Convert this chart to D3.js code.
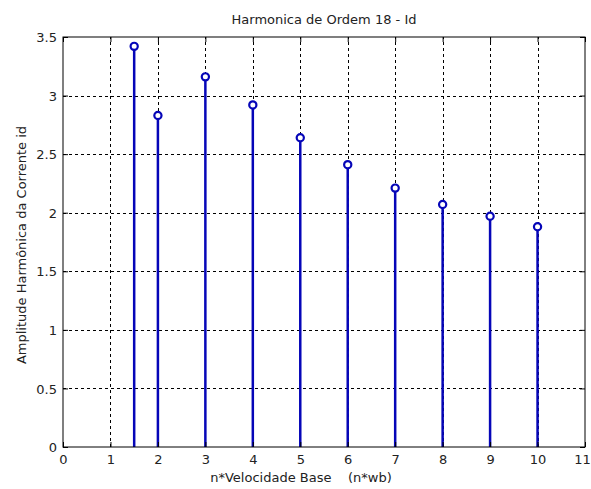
<!DOCTYPE html>
<html>
<head>
<meta charset="utf-8">
<script src="https://cdn.jsdelivr.net/npm/d3@7"></script>
<style>
  body { margin: 0; background: #fff; }
  svg { display: block; }
  text { font-family: "DejaVu Sans", Verdana, sans-serif; fill: #222; }
</style>
</head>
<body>
<svg id="chart" width="591" height="489"></svg>
<script>
// Stem positions (multiples of base speed) and harmonic amplitudes
const speeds = [1.5, 2, 3, 4, 5, 6, 7, 8, 9, 10];
const amplitudes = [3.42, 2.83, 3.16, 2.92, 2.64, 2.41, 2.21, 2.07, 1.97, 1.88];
const xTicks = [0, 1, 2, 3, 4, 5, 6, 7, 8, 9, 10, 11];
const yTicks = [0, 0.5, 1, 1.5, 2, 2.5, 3, 3.5];

const titleText = "Harmonica de Ordem 18 - Id";
const xLabel = "n*Velocidade Base    (n*wb)";
const yLabel = "Amplitude Harmônica da Corrente id";

const svg = d3.select("#chart");
const m = { left: 63, right: 6, top: 37, bottom: 42 };
const W = 591, H = 489;
const x = d3.scaleLinear().domain([0, 11]).range([m.left, W - m.right]);
const y = d3.scaleLinear().domain([0, 3.5]).range([H - m.bottom, m.top]);

const plot = svg.append("g");

// dashed grid
plot.append("g").selectAll("line").data(xTicks.slice(1, -1)).join("line")
  .attr("x1", d => Math.round(x(d)) + 0.5).attr("x2", d => Math.round(x(d)) + 0.5)
  .attr("y1", y(0)).attr("y2", y(3.5))
  .attr("stroke", "#000").attr("stroke-width", 1).attr("stroke-dasharray", "3,3");
plot.append("g").selectAll("line").data(yTicks.slice(1, -1)).join("line")
  .attr("y1", d => Math.round(y(d)) + 0.5).attr("y2", d => Math.round(y(d)) + 0.5)
  .attr("x1", x(0)).attr("x2", x(11))
  .attr("stroke", "#000").attr("stroke-width", 1).attr("stroke-dasharray", "3,3");

// axes with inward ticks on all four sides
const xAxis = d3.axisBottom(x).tickValues(xTicks).tickSize(-5).tickPadding(8).tickFormat(d3.format("d"));
const yAxis = d3.axisLeft(y).tickValues(yTicks).tickSize(-5).tickPadding(6).tickFormat(d => String(d));
const gx = svg.append("g").attr("transform", `translate(0,${y(0)})`).call(xAxis);
const gy = svg.append("g").attr("transform", `translate(${x(0)},0)`).call(yAxis);
svg.append("g").attr("transform", `translate(0,${y(3.5)})`)
  .call(d3.axisTop(x).tickValues(xTicks).tickSize(-5).tickFormat(""));
svg.append("g").attr("transform", `translate(${x(11)},0)`)
  .call(d3.axisRight(y).tickValues(yTicks).tickSize(-5).tickFormat(""));
svg.selectAll(".domain").remove();
svg.selectAll(".tick line").attr("stroke", "#000");
[gx, gy].forEach(g => g.selectAll("text")
  .style("font-family", "'DejaVu Sans', Verdana, sans-serif")
  .style("font-size", "13px").attr("fill", "#222"));
gy.selectAll("text").attr("dy", "0.36em");
// keep the last x label inside the window
gx.selectAll(".tick text").filter(d => d === 11).attr("dx", "-3");

// box
svg.append("rect").attr("x", x(0)).attr("y", y(3.5))
  .attr("width", x(11) - x(0)).attr("height", y(0) - y(3.5))
  .attr("fill", "none").attr("stroke", "#000").attr("stroke-width", 1);

// stems with open circle heads
const pts = speeds.map((s, i) => ({ s, a: amplitudes[i] }));
plot.append("g").selectAll("line").data(pts).join("line")
  .attr("x1", d => x(d.s)).attr("x2", d => x(d.s))
  .attr("y1", y(0)).attr("y2", d => y(d.a))
  .attr("stroke", "#0606b8").attr("stroke-width", 2.5);
plot.append("g").selectAll("circle").data(pts).join("circle")
  .attr("cx", d => x(d.s)).attr("cy", d => y(d.a)).attr("r", 3.6)
  .attr("fill", "#fff").attr("stroke", "#0606b8").attr("stroke-width", 2.2);

// titles
svg.append("text").attr("x", 324).attr("y", 24)
  .attr("text-anchor", "middle").style("font-size", "13px").text(titleText);
svg.append("text").attr("x", 301).attr("y", 482)
  .attr("text-anchor", "middle").style("font-size", "13px")
  .attr("xml:space", "preserve").style("white-space", "pre").text(xLabel);
svg.append("text").attr("transform", `translate(26,${(y(0) + y(3.5)) / 2 + 3}) rotate(-90)`)
  .attr("text-anchor", "middle").style("font-size", "13px").text(yLabel);
</script>
</body>
</html>
